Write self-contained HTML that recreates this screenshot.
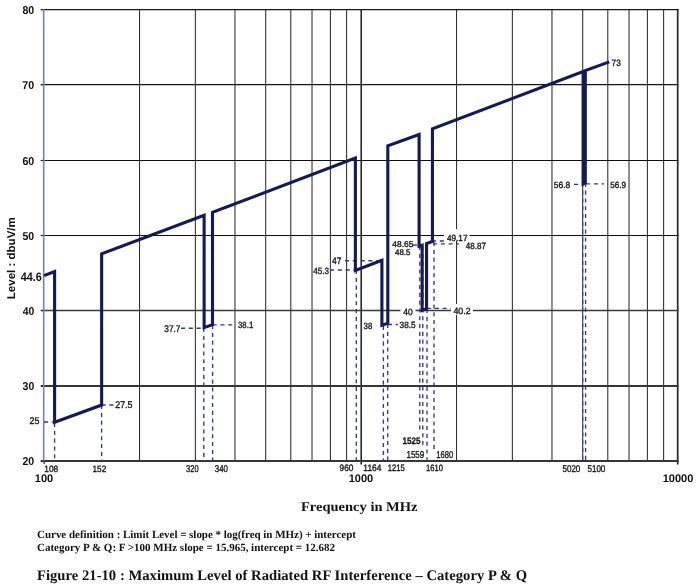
<!DOCTYPE html><html><head><meta charset="utf-8"><style>html,body{margin:0;padding:0;background:#fff;}svg{display:block;will-change:transform;}text{font-family:"Liberation Sans",sans-serif;fill:#141414;text-rendering:geometricPrecision}.t{stroke:#141414;stroke-width:0.35px}.b{font-weight:bold;fill:#0e0e0e}.serif{font-family:"Liberation Serif",serif;font-weight:bold;fill:#111}</style></head><body>
<svg width="700" height="588" viewBox="0 0 700 588">
<rect width="700" height="588" fill="#fff"/>
<line x1="139.55" y1="9" x2="139.55" y2="461" stroke="#2c2c2c" stroke-width="1.05"/>
<line x1="195.37" y1="9" x2="195.37" y2="461" stroke="#2c2c2c" stroke-width="1.05"/>
<line x1="234.97" y1="9" x2="234.97" y2="461" stroke="#2c2c2c" stroke-width="1.05"/>
<line x1="265.69" y1="9" x2="265.69" y2="461" stroke="#2c2c2c" stroke-width="1.05"/>
<line x1="290.79" y1="9" x2="290.79" y2="461" stroke="#2c2c2c" stroke-width="1.05"/>
<line x1="312.02" y1="9" x2="312.02" y2="461" stroke="#2c2c2c" stroke-width="1.05"/>
<line x1="330.40" y1="9" x2="330.40" y2="461" stroke="#2c2c2c" stroke-width="1.05"/>
<line x1="346.61" y1="9" x2="346.61" y2="461" stroke="#2c2c2c" stroke-width="1.05"/>
<line x1="456.55" y1="9" x2="456.55" y2="461" stroke="#2c2c2c" stroke-width="1.05"/>
<line x1="512.37" y1="9" x2="512.37" y2="461" stroke="#2c2c2c" stroke-width="1.05"/>
<line x1="551.97" y1="9" x2="551.97" y2="461" stroke="#2c2c2c" stroke-width="1.05"/>
<line x1="582.69" y1="9" x2="582.69" y2="461" stroke="#2c2c2c" stroke-width="1.05"/>
<line x1="607.79" y1="9" x2="607.79" y2="461" stroke="#2c2c2c" stroke-width="1.05"/>
<line x1="629.02" y1="9" x2="629.02" y2="461" stroke="#2c2c2c" stroke-width="1.05"/>
<line x1="647.40" y1="9" x2="647.40" y2="461" stroke="#2c2c2c" stroke-width="1.05"/>
<line x1="663.61" y1="9" x2="663.61" y2="461" stroke="#2c2c2c" stroke-width="1.05"/>
<line x1="361.20" y1="9" x2="361.20" y2="464.5" stroke="#1c1c1c" stroke-width="1.5"/>
<line x1="677.70" y1="9" x2="677.70" y2="464.5" stroke="#262626" stroke-width="1.7"/>
<line x1="40.8" y1="9.6" x2="678.5" y2="9.6" stroke="#151515" stroke-width="1.25"/>
<line x1="40.8" y1="84.6" x2="678.5" y2="84.6" stroke="#151515" stroke-width="1.25"/>
<line x1="40.8" y1="160.5" x2="678.5" y2="160.5" stroke="#0e0e0e" stroke-width="1.2"/>
<line x1="40.8" y1="235.5" x2="678.5" y2="235.5" stroke="#0e0e0e" stroke-width="1.2"/>
<line x1="40.8" y1="310.5" x2="678.5" y2="310.5" stroke="#3a3a3a" stroke-width="1.3"/>
<line x1="40.8" y1="386.0" x2="678.5" y2="386.0" stroke="#363636" stroke-width="1.8"/>
<line x1="40.8" y1="461" x2="678.6" y2="461" stroke="#363636" stroke-width="1.9"/>
<line x1="43.7" y1="9" x2="43.7" y2="461" stroke="#7482b0" stroke-width="1.6"/>
<line x1="44.1" y1="461" x2="44.1" y2="464" stroke="#333" stroke-width="1.3"/>
<line x1="40.8" y1="9.6" x2="43" y2="9.6" stroke="#1c2260" stroke-width="1.2"/>
<line x1="40.8" y1="84.6" x2="43" y2="84.6" stroke="#1c2260" stroke-width="1.2"/>
<line x1="40.8" y1="160.5" x2="43" y2="160.5" stroke="#1c2260" stroke-width="1.2"/>
<line x1="40.8" y1="235.5" x2="43" y2="235.5" stroke="#1c2260" stroke-width="1.2"/>
<line x1="40.8" y1="310.5" x2="43" y2="310.5" stroke="#1c2260" stroke-width="1.2"/>
<line x1="40.8" y1="386.0" x2="43" y2="386.0" stroke="#1c2260" stroke-width="1.2"/>
<line x1="40.8" y1="461" x2="43" y2="461" stroke="#1c2260" stroke-width="1.2"/>
<line x1="54.60" y1="423.00" x2="54.60" y2="461.00" stroke="#33339a" stroke-width="1.35" stroke-dasharray="4.1,3.7" fill="none" stroke-dashoffset="0"/>
<line x1="101.60" y1="405.00" x2="101.60" y2="461.00" stroke="#33339a" stroke-width="1.35" stroke-dasharray="4.1,3.7" fill="none" stroke-dashoffset="0"/>
<line x1="203.80" y1="328.00" x2="203.80" y2="461.00" stroke="#33339a" stroke-width="1.35" stroke-dasharray="4.1,3.7" fill="none" stroke-dashoffset="0"/>
<line x1="212.60" y1="325.00" x2="212.60" y2="461.00" stroke="#33339a" stroke-width="1.35" stroke-dasharray="4.1,3.7" fill="none" stroke-dashoffset="0"/>
<line x1="356.30" y1="270.00" x2="356.30" y2="461.00" stroke="#33339a" stroke-width="1.35" stroke-dasharray="4.1,3.7" fill="none" stroke-dashoffset="0"/>
<line x1="383.40" y1="326.00" x2="383.40" y2="461.00" stroke="#33339a" stroke-width="1.35" stroke-dasharray="4.1,3.7" fill="none" stroke-dashoffset="0"/>
<line x1="387.70" y1="324.00" x2="387.70" y2="461.00" stroke="#33339a" stroke-width="1.35" stroke-dasharray="4.1,3.7" fill="none" stroke-dashoffset="0"/>
<line x1="419.80" y1="246.00" x2="419.80" y2="433.00" stroke="#33339a" stroke-width="1.35" stroke-dasharray="4.1,3.7" fill="none" stroke-dashoffset="0"/>
<line x1="422.80" y1="246.00" x2="422.80" y2="446.00" stroke="#33339a" stroke-width="1.35" stroke-dasharray="4.1,3.7" fill="none" stroke-dashoffset="0"/>
<line x1="427.00" y1="309.00" x2="427.00" y2="461.00" stroke="#33339a" stroke-width="1.35" stroke-dasharray="4.1,3.7" fill="none" stroke-dashoffset="0"/>
<line x1="434.00" y1="242.00" x2="434.00" y2="452.50" stroke="#33339a" stroke-width="1.35" stroke-dasharray="4.1,3.7" fill="none" stroke-dashoffset="0"/>
<line x1="582.9" y1="185" x2="582.9" y2="461" stroke="#33339a" stroke-width="1.35" stroke-dasharray="4.1,3.7" fill="none" stroke-dashoffset="2.2" opacity="0.55"/>
<line x1="585.60" y1="185.00" x2="585.60" y2="461.00" stroke="#33339a" stroke-width="1.35" stroke-dasharray="4.1,3.7" fill="none" stroke-dashoffset="2.2"/>
<line x1="44.00" y1="422.00" x2="54.60" y2="422.00" stroke="#33339a" stroke-width="1.35" stroke-dasharray="4.1,3.7" fill="none" stroke-dashoffset="0"/>
<line x1="101.60" y1="405.00" x2="115.00" y2="405.00" stroke="#33339a" stroke-width="1.35" stroke-dasharray="4.1,3.7" fill="none" stroke-dashoffset="0"/>
<line x1="181.00" y1="328.20" x2="204.00" y2="328.20" stroke="#33339a" stroke-width="1.35" stroke-dasharray="4.1,3.7" fill="none" stroke-dashoffset="0"/>
<line x1="212.60" y1="324.90" x2="234.00" y2="324.90" stroke="#33339a" stroke-width="1.35" stroke-dasharray="4.1,3.7" fill="none" stroke-dashoffset="0"/>
<line x1="330.00" y1="270.00" x2="355.50" y2="270.00" stroke="#33339a" stroke-width="1.35" stroke-dasharray="4.1,3.7" fill="none" stroke-dashoffset="0"/>
<line x1="345.00" y1="260.70" x2="381.70" y2="260.70" stroke="#33339a" stroke-width="1.35" stroke-dasharray="4.1,3.7" fill="none" stroke-dashoffset="0"/>
<line x1="388.00" y1="324.50" x2="398.00" y2="324.50" stroke="#33339a" stroke-width="1.35" stroke-dasharray="4.1,3.7" fill="none" stroke-dashoffset="0"/>
<line x1="414.00" y1="310.30" x2="422.00" y2="310.30" stroke="#33339a" stroke-width="1.35" stroke-dasharray="4.1,3.7" fill="none" stroke-dashoffset="0"/>
<line x1="427.00" y1="308.40" x2="451.00" y2="308.40" stroke="#33339a" stroke-width="1.35" stroke-dasharray="4.1,3.7" fill="none" stroke-dashoffset="0"/>
<line x1="413.00" y1="245.10" x2="419.00" y2="245.10" stroke="#33339a" stroke-width="1.35" stroke-dasharray="4.1,3.7" fill="none" stroke-dashoffset="0"/>
<line x1="432.00" y1="241.00" x2="445.00" y2="241.00" stroke="#33339a" stroke-width="1.35" stroke-dasharray="4.1,3.7" fill="none" stroke-dashoffset="0"/>
<line x1="433.00" y1="243.90" x2="459.00" y2="243.90" stroke="#33339a" stroke-width="1.35" stroke-dasharray="4.1,3.7" fill="none" stroke-dashoffset="0"/>
<line x1="574.00" y1="184.40" x2="583.00" y2="184.40" stroke="#33339a" stroke-width="1.35" stroke-dasharray="4.1,3.7" fill="none" stroke-dashoffset="0"/>
<line x1="586.00" y1="183.80" x2="604.00" y2="183.80" stroke="#33339a" stroke-width="1.35" stroke-dasharray="4.1,3.7" fill="none" stroke-dashoffset="0"/>
<rect x="375.6" y="325.3" width="1" height="1" fill="#9a9ad0"/>
<path d="M44.00,275.62 L54.60,271.61 L54.60,422.20 L101.64,405.05 L101.64,253.79 L204.13,215.27 L204.13,327.60 L212.48,324.59 L212.48,212.41 L355.38,157.99 L355.38,270.44 L381.91,260.37 L381.91,325.34 L387.81,323.08 L387.81,145.81 L419.10,134.56 L419.10,246.38 L422.13,245.25 L422.13,310.30 L426.56,308.80 L426.56,243.60 L432.42,241.34 L432.42,128.91 L583.12,71.44 L583.12,183.96 L585.30,183.21 L585.30,70.61 L609.30,61.84" stroke="#121a58" stroke-width="3.1" fill="none" stroke-linejoin="miter" stroke-miterlimit="4"/>
<rect x="400.5" y="305" width="15.0" height="12" fill="#fff"/>
<rect x="451" y="304" width="22" height="11" fill="#fff"/>
<rect x="444" y="229" width="25.5" height="12" fill="#fff"/>
<text class="b" transform="translate(22.44,465.19) scale(0.926,1)" style="font-size:11.44px;" >20</text>
<text class="b" transform="translate(22.57,390.17) scale(0.917,1)" style="font-size:11.42px;" >30</text>
<text class="b" transform="translate(22.64,314.69) scale(0.910,1)" style="font-size:11.44px;" >40</text>
<text class="b" transform="translate(22.48,239.69) scale(0.923,1)" style="font-size:11.44px;" >50</text>
<text class="b" transform="translate(22.42,164.69) scale(0.928,1)" style="font-size:11.44px;" >60</text>
<text class="b" transform="translate(22.35,88.79) scale(0.933,1)" style="font-size:11.44px;" >70</text>
<text class="b" transform="translate(22.47,13.79) scale(0.924,1)" style="font-size:11.44px;" >80</text>
<text class="b" transform="translate(20.74,280.68) scale(0.884,1)" style="font-size:12.29px;" >44.6</text>
<text transform="translate(15.0,299.2) rotate(-90)" class="b" style="font-size:11.3px" textLength="82" lengthAdjust="spacingAndGlyphs">Level : dbuV/m</text>
<text x="44" y="482.4" class="b" text-anchor="middle" style="font-size:11px">100</text>
<text x="361" y="482.2" class="b" text-anchor="middle" style="font-size:11px">1000</text>
<text x="678" y="482.4" class="b" text-anchor="middle" style="font-size:11px">10000</text>
<text class="t" transform="translate(44.27,471.71) scale(0.907,1)" style="font-size:9.18px;" >108</text>
<text class="t" transform="translate(92.58,471.71) scale(0.890,1)" style="font-size:9.18px;" >152</text>
<text class="t" transform="translate(186.11,471.80) scale(0.762,1)" style="font-size:9.89px;" >320</text>
<text class="t" transform="translate(214.80,471.80) scale(0.794,1)" style="font-size:9.89px;" >340</text>
<text class="t" transform="translate(339.62,471.11) scale(0.887,1)" style="font-size:9.32px;" >960</text>
<text class="t" transform="translate(363.36,471.11) scale(0.897,1)" style="font-size:9.32px;" >1164</text>
<text class="t" transform="translate(387.72,471.01) scale(0.815,1)" style="font-size:9.32px;" >1215</text>
<text class="t" transform="translate(426.02,471.11) scale(0.826,1)" style="font-size:9.18px;" >1610</text>
<text class="t" transform="translate(562.48,472.00) scale(0.822,1)" style="font-size:9.75px;" >5020</text>
<text class="t" transform="translate(587.48,472.00) scale(0.822,1)" style="font-size:9.75px;" >5100</text>
<text class="t" transform="translate(406.50,457.60) scale(0.788,1)" style="font-size:10.03px;" >1559</text>
<text class="t" transform="translate(436.32,457.60) scale(0.772,1)" style="font-size:9.89px;" >1680</text>
<text class="b" transform="translate(402.60,444.21) scale(0.864,1)" style="font-size:9.32px;stroke:#111;stroke-width:0.25px" >1525</text>
<text class="t" transform="translate(115.26,407.80) scale(0.907,1)" style="font-size:9.75px;" >27.5</text>
<text class="t" transform="translate(29.56,424.30) scale(0.918,1)" style="font-size:9.60px;" >25</text>
<text class="t" transform="translate(164.29,331.70) scale(0.863,1)" style="font-size:9.60px;" >37.7</text>
<text class="t" transform="translate(238.00,328.11) scale(0.868,1)" style="font-size:9.04px;" >38.1</text>
<text class="t" transform="translate(332.11,264.30) scale(0.896,1)" style="font-size:9.45px;" >47</text>
<text class="t" transform="translate(313.22,274.31) scale(0.880,1)" style="font-size:9.18px;" >45.3</text>
<text class="t" transform="translate(363.60,329.01) scale(0.880,1)" style="font-size:9.04px;" >38</text>
<text class="t" transform="translate(399.59,327.61) scale(0.912,1)" style="font-size:9.04px;" >38.5</text>
<text class="t" transform="translate(403.31,314.91) scale(0.936,1)" style="font-size:9.04px;" >40</text>
<text class="t" transform="translate(453.41,313.51) scale(0.980,1)" style="font-size:9.04px;" >40.2</text>
<text class="t" transform="translate(392.32,246.62) scale(0.992,1)" style="font-size:8.47px;" >48.65</text>
<text class="t" transform="translate(395.02,255.12) scale(0.972,1)" style="font-size:8.19px;" >48.5</text>
<text class="t" transform="translate(446.92,240.61) scale(0.925,1)" style="font-size:8.90px;" >49.17</text>
<text class="t" transform="translate(465.82,249.31) scale(0.892,1)" style="font-size:9.04px;" >48.87</text>
<text class="t" transform="translate(553.76,188.21) scale(0.953,1)" style="font-size:8.90px;" >56.8</text>
<text class="t" transform="translate(610.27,188.21) scale(0.919,1)" style="font-size:8.90px;" >56.9</text>
<text class="t" transform="translate(611.57,65.71) scale(0.909,1)" style="font-size:9.18px;" >73</text>
<text x="301" y="511" class="serif" style="font-size:13.4px" textLength="116.5" lengthAdjust="spacingAndGlyphs">Frequency in MHz</text>
<text x="37" y="538.3" class="serif" style="font-size:11px" textLength="319" lengthAdjust="spacing">Curve definition : Limit Level = slope * log(freq in MHz) + intercept</text>
<text x="37" y="551" class="serif" style="font-size:11px" textLength="298" lengthAdjust="spacing">Category P &amp; Q: F &gt;100 MHz slope = 15.965, intercept = 12.682</text>
<text x="37" y="580" class="serif" style="font-size:14.6px" textLength="490" lengthAdjust="spacing">Figure 21-10 : Maximum Level of Radiated RF Interference – Category P &amp; Q</text>
</svg></body></html>
